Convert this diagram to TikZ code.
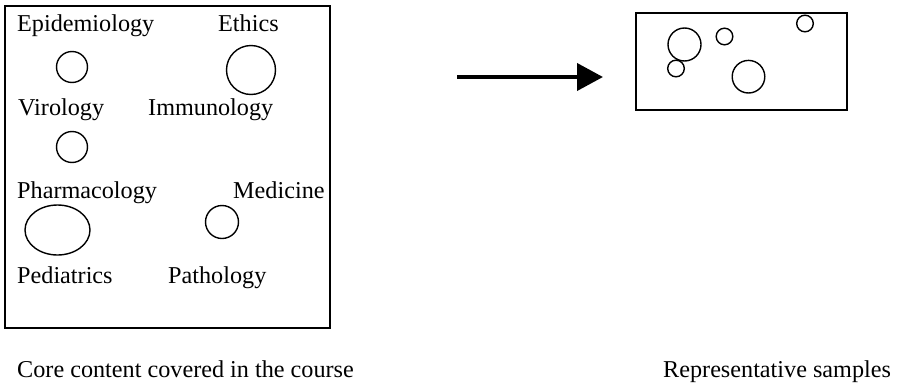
\documentclass[tikz,border=0pt]{standalone}
\usepackage{fontspec}
\setmainfont{Liberation Serif}
\usetikzlibrary{arrows.meta,shapes.geometric}
\begin{document}
\begin{tikzpicture}[x=1pt,y=-1pt,
  txt/.style={anchor=base west, inner sep=0pt, font=\fontsize{24.2}{29}\selectfont},
  frame/.style={draw, line width=1.8pt, inner sep=0pt, anchor=north west},
  blob/.style={draw, line width=1.4pt, circle, inner sep=0pt},
  oval/.style={draw, line width=1.4pt, ellipse, inner sep=0pt},
]
\useasboundingbox (0,0) rectangle (900,386);

% course content panel
\node[frame, minimum width=325pt, minimum height=322pt] (core) at (4,5) {};
\node[txt] (epi) at (17,31) {Epidemiology};
\node[txt] (eth) at (218,31) {Ethics};
\node[blob, minimum size=31pt] (c1) at (72,67) {};
\node[blob, minimum size=49pt] (c2) at (251,70) {};
\node[txt] (vir) at (18,115) {Virology};
\node[txt] (imm) at (148,115) {Immunology};
\node[blob, minimum size=31pt] (c3) at (72,147) {};
\node[txt] (pha) at (17,198) {Pharmacology};
\node[txt] (med) at (233,198) {Medicine};
\node[oval, minimum width=65pt, minimum height=50pt] (c4) at (57.5,230) {};
\node[blob, minimum size=33pt] (c5) at (222,222) {};
\node[txt] (ped) at (17,283) {Pediatrics};
\node[txt] (pat) at (168,283) {Pathology};

% sampling arrow
\coordinate (a1) at (457,77);
\coordinate (a2) at (603,77);
\draw[line width=4pt, -{Triangle[length=26pt,width=27pt]}] (a1) -- (a2);

% sample panel
\node[frame, minimum width=211pt, minimum height=97pt] (samp) at (635,12) {};
\node[blob, minimum size=33pt] (s1) at (684.5,44.5) {};
\node[blob, minimum size=16.6pt] (s2) at (676,68.5) {};
\node[blob, minimum size=16.6pt] (s3) at (724.5,36.5) {};
\node[blob, minimum size=16.6pt] (s4) at (805,23.5) {};
\node[blob, minimum size=32.6pt] (s5) at (748.5,76.7) {};

% captions
\node[txt] (cap1) at (17,377) {Core content covered in the course};
\node[txt] (cap2) at (663,377) {Representative samples};
\end{tikzpicture}
\end{document}
